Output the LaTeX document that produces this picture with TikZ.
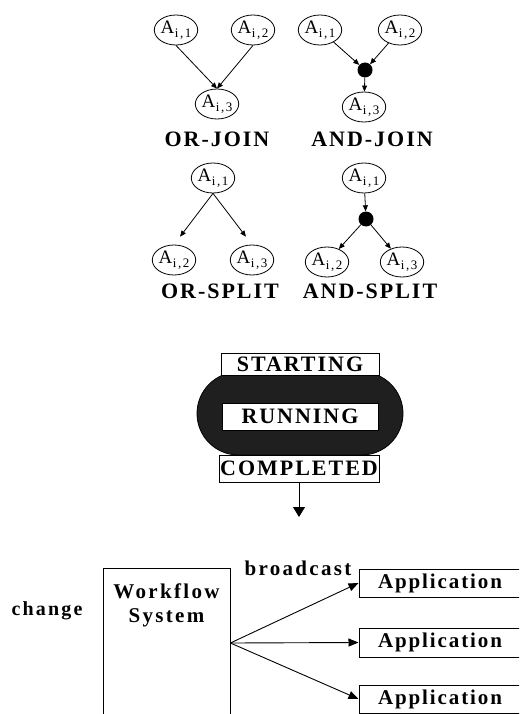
\documentclass[tikz,border=0pt]{standalone}
\usepackage{fontspec}
\setmainfont{Liberation Serif}
\newfontfamily\spaced[LetterSpace=9]{Liberation Serif}
\newfontfamily\spacedwide[LetterSpace=11]{Liberation Serif}
\newfontfamily\subfont[LetterSpace=12]{Liberation Serif}
\usetikzlibrary{shapes.geometric,shapes.misc,arrows.meta}

% activity name with its index pair as a subscript
\newcommand\actname[1]{A\kern0.5pt\raisebox{-4pt}{\subfont\fontsize{13}{13}\selectfont i,#1}}

\tikzset{
  act/.style={ellipse, draw, line width=0.8pt, minimum width=43pt, minimum height=30pt,
    inner sep=0pt, font=\fontsize{19}{20}\selectfont},
  joindot/.style={circle, fill=black, minimum size=15pt, inner sep=0pt},
  arr/.style={line width=0.8pt, -{Triangle[length=6pt,width=5pt]}},
  bigarr/.style={line width=0.9pt, -{Triangle[length=10pt,width=8pt]}},
  lbl/.style={font=\spaced\bfseries\fontsize{22}{26}\selectfont, inner sep=0pt, anchor=base},
  txt/.style={font=\spacedwide\bfseries\fontsize{21}{24}\selectfont, inner sep=0pt},
  statebox/.style={draw, fill=white, line width=1pt, inner sep=0pt,
    font=\spaced\bfseries\fontsize{22}{26}\selectfont},
  appbox/.style={draw, line width=1pt, minimum width=162pt, inner sep=0pt,
    font=\spaced\bfseries\fontsize{21}{24}\selectfont},
}

\begin{document}
\begin{tikzpicture}[x=1pt,y=-1pt]
\useasboundingbox (0,0) rectangle (519,714);
\clip (0,0) rectangle (519,714);

% OR-JOIN
\node[act] (oj1) at (176,30) {\actname{1}};
\node[act] (oj2) at (253,30) {\actname{2}};
\node[act] (oj3) at (217,104) {\actname{3}};
\draw[arr] (oj1.south) -- (oj3.north);
\draw[arr] (oj2.south) -- (oj3.north);
\node[lbl] (ojl) at (217,147) {OR-JOIN};

% AND-JOIN
\node[act] (aj1) at (320,30) {\actname{1}};
\node[act] (aj2) at (400,30) {\actname{2}};
\node[joindot] (ajd) at (365,70) {};
\node[act] (aj3) at (364,107) {\actname{3}};
\draw[arr] (aj1) -- (ajd);
\draw[arr] (aj2) -- (ajd);
\draw[arr] (ajd) -- (aj3);
\node[lbl] (ajl) at (372,147) {AND-JOIN};

% OR-SPLIT
\node[act] (os1) at (213,178) {\actname{1}};
\node[act] (os2) at (174,260) {\actname{2}};
\node[act] (os3) at (252,260) {\actname{3}};
\draw[arr, shorten >=10pt] (os1.south) -- (os2.north);
\draw[arr, shorten >=10pt] (os1.south) -- (os3.north);
\node[lbl] (osl) at (220,298) {OR-SPLIT};

% AND-SPLIT
\node[act] (as1) at (364,178) {\actname{1}};
\node[joindot] (asd) at (366,219) {};
\node[act] (as2) at (327,262) {\actname{2}};
\node[act] (as3) at (402,262) {\actname{3}};
\draw[arr] (as1) -- (asd);
\draw[arr] (asd) -- (as2);
\draw[arr] (asd) -- (as3);
\node[lbl] (asl) at (370,298) {AND-SPLIT};

% activity life cycle
\node[rounded rectangle, draw, line width=0.8pt, fill=black!88,
  minimum width=206pt, minimum height=83pt, inner sep=0pt] (life) at (300,413.5) {};
\node[statebox, minimum width=158pt, minimum height=22pt] (st) at (300,364) {STARTING};
\node[statebox, minimum width=156pt, minimum height=27pt] (rn) at (300,416.5) {RUNNING};
\node[statebox, minimum width=160pt, minimum height=27pt] (cm) at (299,468.5) {COMPLETED};
\coordinate (cmout) at (299,517);
\draw[line width=0.9pt, -{Triangle[length=10pt,width=12pt]}] (cm.south) -- (cmout);

% broadcast of a change
\node[draw, line width=0.8pt, minimum width=127pt, minimum height=150pt, inner sep=0pt]
  (wf) at (166.5,643) {};
\node[txt, align=center, anchor=north] (wft) at (166.5,584) {Workflow\\System};
\node[txt, anchor=base, font=\spacedwide\bfseries\fontsize{20}{24}\selectfont] (chg) at (47,615) {change};
\node[txt, anchor=base] (bc) at (298,575) {broadcast};
\node[appbox, minimum height=28pt] (ap1) at (440,583) {Application};
\node[appbox, minimum height=29pt] (ap2) at (440,642.5) {Application};
\node[appbox, minimum height=28pt] (ap3) at (440,699) {Application};
\draw[bigarr] (wf.east) -- (ap1.west);
\draw[bigarr] (wf.east) -- (ap2.west);
\draw[bigarr] (wf.east) -- (ap3.west);
\end{tikzpicture}
\end{document}
